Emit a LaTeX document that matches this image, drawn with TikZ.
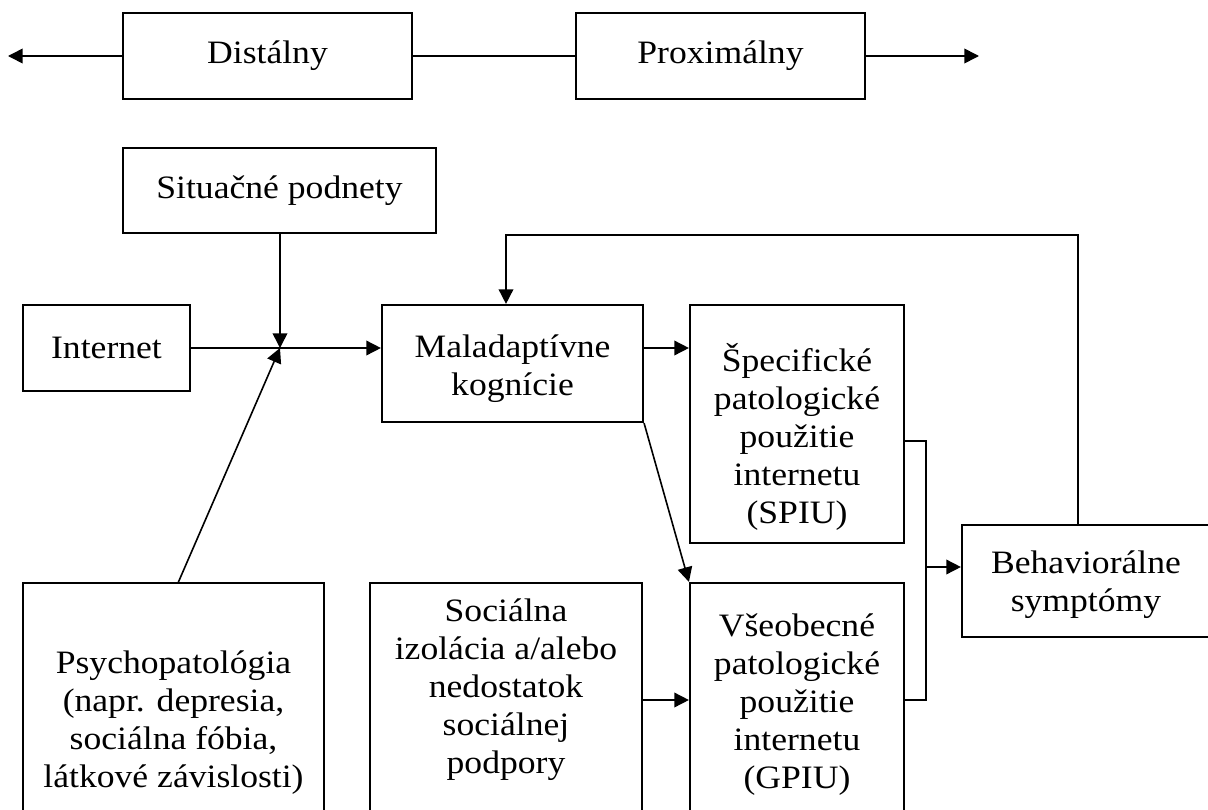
\documentclass[tikz,border=0pt]{standalone}
\usepackage{fontspec}
\setmainfont[FakeStretch=1.09]{Liberation Serif}
\usetikzlibrary{arrows.meta}

\tikzset{
  box/.style={draw, line width=1.6pt, inner sep=0pt, align=center, font=\fontsize{24.5}{28.5}\selectfont},
  sz/.style 2 args={minimum width=#1*0.75pt, minimum height=#2*0.75pt},
  lift/.style={text depth=#1},
  sink/.style={text height=#1},
  arr/.style={line width=1.2pt, -{Triangle[length=11pt,width=11pt]}},
  ln/.style={line width=1.2pt}
}

\begin{document}
\begin{tikzpicture}[x=0.75pt, y=-0.75pt]
\useasboundingbox (0,0) rectangle (1208,810);

% time axis
\node[box, sz={289}{86}] (dist) at (267.5,56) {Distálny};
\node[box, sz={289}{86}] (prox) at (720.5,56) {Proximálny};
\coordinate (past) at (8,56);
\coordinate (future) at (979,56);

% model boxes
\node[box, sz={313}{85}] (sit) at (279.5,190.5) {Situačné podnety};
\node[box, sz={167}{86}] (inet) at (106.5,348) {Internet};
\node[box, sz={261}{117}, sink=54pt] (mal) at (512.5,363.5) {Maladaptívne\\kognície};
\node[box, sz={214}{238}, sink=154pt] (spiu) at (797,424) {Špecifické\\patologické\\použitie\\internetu\\(SPIU)};
\node[box, sz={248}{112}, sink=51pt] (beh) at (1086,581) {Behaviorálne\\symptómy};
\node[box, sz={301}{280}] (psy) at (173.5,723) {Psychopatológia\\(napr. depresia,\\sociálna fóbia,\\látkové závislosti)};
\node[box, sz={272}{240}, lift=25pt] (soc) at (506,703) {Sociálna\\izolácia a/alebo\\nedostatok\\sociálnej\\podpory};
\node[box, sz={214}{244}] (gpiu) at (797,705) {Všeobecné\\patologické\\použitie\\internetu\\(GPIU)};

\coordinate (jn) at (280,348);
\coordinate (pst) at (178,583);
\coordinate (fbr) at (1078,235);
\coordinate (fbl) at (506,235);
\coordinate (sc) at (926,441);
\coordinate (mrg) at (926,567);
\coordinate (sg) at (926,700);

\draw[arr] (dist.west) -- (past);
\draw[ln] (dist.east) -- (prox.west);
\draw[arr] (prox.east) -- (future);

\draw[arr] (sit.south -| jn) -- (jn);
\draw[arr] (pst) -- (jn);
\draw[arr] (inet.east) -- (inet.east -| mal.west);
\draw[arr] (mal.east |- inet.east) -- (spiu.west |- inet.east);
\draw[arr] (mal.south east) -- (gpiu.north west);
\draw[arr] (soc.east |- sg) -- (gpiu.west |- sg);

\draw[ln] (spiu.east |- sc) -- (sc) -- (sg) -- (gpiu.east |- sg);
\draw[arr] (mrg) -- (mrg -| beh.west);
\draw[arr] (beh.north -| fbr) -- (fbr) -- (fbl) -- (fbl |- mal.north);
\end{tikzpicture}
\end{document}
